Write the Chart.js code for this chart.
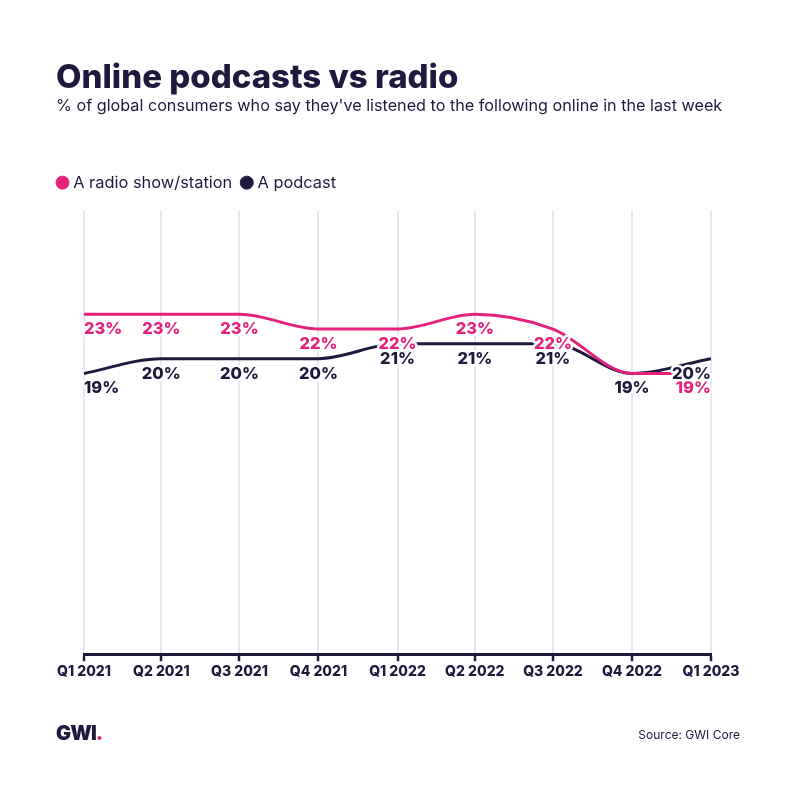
<!DOCTYPE html>
<html>
<head>
<meta charset="utf-8">
<title>Online podcasts vs radio</title>
<script src="https://cdn.jsdelivr.net/npm/chart.js@4"></script>
<style>
  html, body { margin: 0; padding: 0; background: #fff; }
  #wrap { position: relative; width: 796px; height: 786px; overflow: hidden; font-family: Inter, sans-serif; color: #1f1a3d; }
  #logo { position: absolute; left: 56px; top: 721px; font-size: 20px; font-weight: 900; letter-spacing: -0.9px; }
  #logo span { color: #e5217c; }
  #source { position: absolute; right: 56px; top: 727px; font-size: 12px; }
</style>
</head>
<body>
<div id="wrap">
  <canvas id="chart" width="796" height="786"></canvas>
  <div id="logo">GWI<span>.</span></div>
  <div id="source">Source: GWI Core</div>
</div>
<script>
const categories = ['Q1 2021', 'Q2 2021', 'Q3 2021', 'Q4 2021', 'Q1 2022', 'Q2 2022', 'Q3 2022', 'Q4 2022', 'Q1 2023'];
// days since Q1 2021, the quarters are not quite evenly spaced in the original
const quarterDays = [0, 90, 181, 273, 365, 455, 546, 638, 730];
const radioValues = [23, 23, 23, 22, 22, 23, 22, 19, 19];
const podcastValues = [19, 20, 20, 20, 21, 21, 21, 19, 20];

const pink = '#e5217c';
const navy = '#1f1a3d';
const fontFamily = 'Inter, sans-serif';

const toPoints = values => values.map((v, i) => ({ x: quarterDays[i], y: v }));

// percent labels under every point, with a white halo that cuts the lines
const valueLabels = {
  id: 'valueLabels',
  afterDatasetsDraw(chart) {
    const ctx = chart.ctx;
    const last = categories.length - 1;
    ctx.save();
    ctx.font = '800 16.5px ' + fontFamily;
    ctx.textBaseline = 'middle';
    ctx.lineJoin = 'round';
    chart.data.datasets.forEach(ds => {
      ds.data.forEach((p, i) => {
        const x = chart.scales.x.getPixelForValue(p.x);
        const y = chart.scales.y.getPixelForValue(p.y) + 15;
        const text = p.y + '%';
        ctx.textAlign = i === 0 ? 'left' : i === last ? 'right' : 'center';
        ctx.lineWidth = 5;
        ctx.strokeStyle = '#fff';
        ctx.strokeText(text, x, y);
        ctx.fillStyle = ds.borderColor;
        ctx.fillText(text, x, y);
      });
    });
    ctx.restore();
  }
};

// legend sits flush with the title and higher than its box, padding is only wanted between items
const legendNudge = {
  id: 'legendNudge',
  afterLayout(chart) {
    chart.legend.left -= 8;
    chart.legend.top -= 10;
  }
};

// empty axes that only inset the plot, so the subtitle keeps the full width
const hiddenAxis = (position, width) => ({
  position,
  min: 0,
  max: 30,
  grid: { display: false },
  border: { display: false },
  ticks: { display: false },
  afterFit(scale) {
    scale.width = width;
  }
});

new Chart(document.getElementById('chart'), {
  type: 'line',
  data: {
    datasets: [
      { label: 'A radio show/station', data: toPoints(radioValues), borderColor: pink, backgroundColor: pink },
      { label: 'A podcast', data: toPoints(podcastValues), borderColor: navy, backgroundColor: navy }
    ]
  },
  options: {
    responsive: false,
    animation: false,
    devicePixelRatio: 1,
    layout: { padding: { left: 56, right: 56, top: 62, bottom: 104 } },
    elements: {
      line: { borderWidth: 3, cubicInterpolationMode: 'monotone', fill: false },
      point: { radius: 0 }
    },
    plugins: {
      title: {
        display: true,
        text: 'Online podcasts vs radio',
        align: 'start',
        color: navy,
        font: { family: fontFamily, size: 33, weight: '800', lineHeight: 1 },
        padding: { top: 0, bottom: 1 }
      },
      subtitle: {
        display: true,
        text: "% of global consumers who say they've listened to the following online in the last week",
        align: 'start',
        color: navy,
        font: { family: fontFamily, size: 16.2, weight: '400', lineHeight: 1.2 },
        padding: { top: 0, bottom: 57 }
      },
      legend: {
        position: 'top',
        align: 'start',
        labels: {
          usePointStyle: true,
          pointStyle: 'circle',
          boxWidth: 5,
          boxHeight: 9.2,
          padding: 12,
          color: navy,
          font: { family: fontFamily, size: 16.4 }
        }
      },
      tooltip: { enabled: false }
    },
    scales: {
      x: {
        type: 'linear',
        min: 0,
        max: 730,
        afterBuildTicks(scale) {
          scale.ticks = quarterDays.map(value => ({ value }));
        },
        grid: { color: '#e1e9f6', lineWidth: 2, tickColor: navy, tickLength: 7, tickWidth: 2.5 },
        border: { color: navy, width: 3 },
        ticks: {
          autoSkip: false,
          maxRotation: 0,
          padding: 2,
          color: navy,
          font: { family: fontFamily, size: 14, weight: '800' },
          callback: value => categories[quarterDays.indexOf(value)]
        }
      },
      y: hiddenAxis('left', 28),
      y2: hiddenAxis('right', 29)
    }
  },
  plugins: [valueLabels, legendNudge]
});
</script>
</body>
</html>
